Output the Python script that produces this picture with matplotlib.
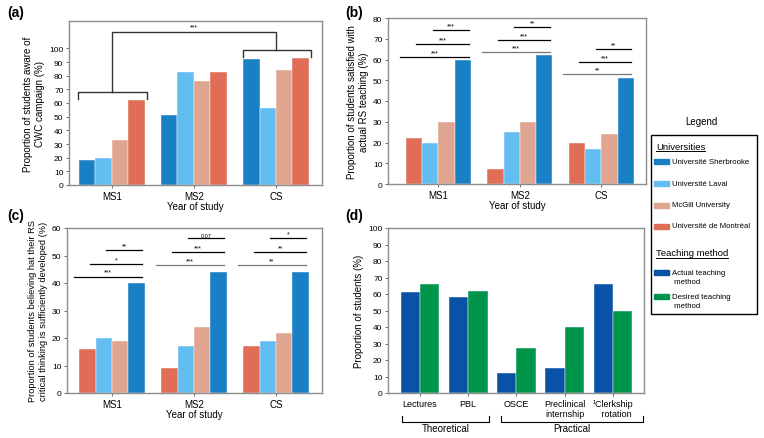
import matplotlib.pyplot as plt
import matplotlib.transforms as mtransforms
from matplotlib.patches import Rectangle
from matplotlib.lines import Line2D
import numpy as np

plt.rcParams['font.family'] = ['Liberation Sans', 'DejaVu Sans']

years = ['MS1', 'MS2', 'CS']

# (a) aware of CWC campaign
aware_sherbrooke = [18, 51, 92]
aware_laval = [20, 83, 56]
aware_mcgill = [33, 76, 84]
aware_montreal = [62, 83, 93]

# (b) satisfied with actual RS teaching
satis_montreal = [22, 7, 20]
satis_laval = [20, 25, 17]
satis_mcgill = [30, 30, 24]
satis_sherbrooke = [60, 62, 51]
satis_sig_y = [[61.3, 67.5, 74], [63.5, 69.2, 75.5], [53, 59, 65]]
satis_sig_txt = [['***', '***', '***'], ['***', '***', '**'], ['**', '***', '**']]

# (c) critical thinking sufficiently developed
crit_montreal = [16, 9, 17]
crit_laval = [20, 17, 19]
crit_mcgill = [19, 24, 22]
crit_sherbrooke = [40, 44, 44]
crit_sig_y = [[42.3, 46.9, 52], [46.5, 51.2, 56.2], [46.5, 51.2, 56.2]]
crit_sig_txt = [['***', '*', '**'], ['***', '***', '0.07'], ['**', '**', '*']]

# (d) teaching methods
methods = ['Lectures', 'PBL', 'OSCE', 'Preclinical\ninternship', '¹Clerkship\n   rotation']
actual = [61, 58, 12, 15, 66]
desired = [66, 62, 27, 40, 50]

c_sher = '#1a80c6'
c_laval = '#62bdf0'
c_mcgill = '#e0a591'
c_mont = '#e06d56'
c_actual = '#0a52a8'
c_desired = '#00954a'
spine_c = '#8c8c8c'

fig = plt.figure(figsize=(7.64, 4.39), dpi=100)

def px_axes(l, r, t, b):
    W, H = 764, 439
    return fig.add_axes([l / W, 1 - b / H, (r - l) / W, (b - t) / H])

def style(ax):
    for s in ax.spines.values():
        s.set_color(spine_c)
        s.set_linewidth(1.0)
    ax.tick_params(axis='y', labelsize=6, length=2.5, width=0.6, pad=1.5, color='#555555')
    ax.tick_params(axis='x', labelsize=7, length=2.5, width=0.6, pad=2, color='#555555')

offsets = np.array([-0.3, -0.1, 0.1, 0.3])
x = np.arange(len(years))

def draw_groups(ax, series, colors):
    for off, vals, col in zip(offsets, series, colors):
        ax.bar(x + off, vals, 0.2, color=col, edgecolor='white', linewidth=0.3)

def draw_sig(ax, ys, txts):
    for g in range(len(years)):
        for k in range(3):
            x0 = g + offsets[k] - 0.17
            x1 = g + offsets[3] + 0.07
            y = ys[g][k]
            col = '#777777' if (k == 0 and g > 0) else 'black'
            ax.plot([x0, x1], [y, y], color=col, lw=0.9, clip_on=False)
            fs = 4 if txts[g][k] == '0.07' else 5
            ax.text((x0 + x1) / 2, y + 0.3, txts[g][k], ha='center', va='bottom', fontsize=fs)

# ---------- (a)
ax = px_axes(69, 322, 22, 186)
style(ax)
draw_groups(ax, [aware_sherbrooke, aware_laval, aware_mcgill, aware_montreal],
            [c_sher, c_laval, c_mcgill, c_mont])
ax.set_xlim(-0.52, 2.56)
ax.set_ylim(0, 120)
ax.set_yticks(range(0, 101, 10))
ax.set_xticks(x, years)
ax.set_xlabel('Year of study', fontsize=7, labelpad=0)
ax.set_ylabel('Proportion of students aware of\nCWC campaign (%)', fontsize=7, labelpad=3)
bk = '#333333'
ax.plot([-0.41, -0.41, 0.43, 0.43], [63, 68, 68, 63], color=bk, lw=1)
ax.plot([1.6, 1.6, 2.43, 2.43], [94, 98.5, 98.5, 94], color=bk, lw=1)
ax.plot([0, 0, 2.0, 2.0], [68, 112, 112, 98.5], color=bk, lw=1)
ax.text(1.0, 112.8, '***', ha='center', va='bottom', fontsize=5)

# ---------- (b)
ax = px_axes(388, 646, 19, 185)
style(ax)
draw_groups(ax, [satis_montreal, satis_laval, satis_mcgill, satis_sherbrooke],
            [c_mont, c_laval, c_mcgill, c_sher])
ax.set_xlim(-0.62, 2.55)
ax.set_ylim(0, 80)
ax.set_yticks(range(0, 81, 10))
ax.set_xticks(x, years)
ax.set_xlabel('Year of study', fontsize=7, labelpad=0)
ax.set_ylabel('Proportion of students satisfied with\nactual RS teaching (%)', fontsize=7, labelpad=3)
draw_sig(ax, satis_sig_y, satis_sig_txt)

# ---------- (c)
ax = px_axes(67, 322, 229, 394)
style(ax)
draw_groups(ax, [crit_montreal, crit_laval, crit_mcgill, crit_sherbrooke],
            [c_mont, c_laval, c_mcgill, c_sher])
ax.set_xlim(-0.55, 2.56)
ax.set_ylim(0, 60)
ax.set_yticks(range(0, 61, 10))
ax.set_xticks(x, years)
ax.set_xlabel('Year of study', fontsize=7, labelpad=0)
ax.set_ylabel('Proportion of students believing hat their RS\ncritical thinking is sufficiently developed (%)',
              fontsize=6.7, labelpad=3)
draw_sig(ax, crit_sig_y, crit_sig_txt)

# ---------- (d)
ax = px_axes(388, 644, 229, 394)
style(ax)
xm = np.arange(len(methods))
ax.bar(xm - 0.2, actual, 0.4, color=c_actual, edgecolor='white', linewidth=0.3)
ax.bar(xm + 0.2, desired, 0.4, color=c_desired, edgecolor='white', linewidth=0.3)
ax.set_xlim(-0.66, 4.64)
ax.set_ylim(0, 100)
ax.set_yticks(range(0, 101, 10))
ax.set_xticks(xm, methods, fontsize=6.5, linespacing=1.05)
ax.set_ylabel('Proportion of students (%)', fontsize=7, labelpad=3)
tr = mtransforms.blended_transform_factory(ax.transData, ax.transAxes)
for x0, x1, lab in [(-0.37, 1.44, 'Theoretical'), (1.67, 4.62, 'Practical')]:
    ax.add_line(Line2D([x0, x0, x1, x1], [-0.14, -0.175, -0.175, -0.14], transform=tr,
                       color='black', lw=0.8, clip_on=False))
    ax.text((x0 + x1) / 2, -0.215, lab, transform=tr, ha='center', va='center', fontsize=7)

# ---------- panel letters
for lx, ly, lab in [(7, 13, '(a)'), (345, 13, '(b)'), (7, 216, '(c)'), (345, 216, '(d)')]:
    fig.text(lx / 764, 1 - ly / 439, lab, fontsize=10, fontweight='bold', ha='left', va='center')

# ---------- legend
W, H = 764, 439
def fx(p): return p / W
def fy(p): return 1 - p / H

fig.patches.append(Rectangle((fx(651), fy(315)), fx(757) - fx(651), fy(136) - fy(315),
                             transform=fig.transFigure, fill=False, edgecolor='black', lw=1))
fig.text(fx(701), fy(122), 'Legend', ha='center', va='center', fontsize=7)

def header(px, py, s):
    t = fig.text(fx(px), fy(py), s, ha='left', va='center', fontsize=6.8)
    fig.canvas.draw()
    bb = t.get_window_extent().transformed(fig.transFigure.inverted())
    fig.add_artist(Line2D([bb.x0, bb.x1], [bb.y0 - 0.002, bb.y0 - 0.002], color='black', lw=0.7,
                          transform=fig.transFigure))

header(656, 147, 'Universities')
header(656, 254, 'Teaching method')

entries = [(162, c_sher, 'Université Sherbrooke'),
           (184, c_laval, 'Université Laval'),
           (206, c_mcgill, 'McGill University'),
           (227, c_mont, 'Université de Montréal'),
           (278, c_actual, 'Actual teaching\n method'),
           (302, c_desired, 'Desired teaching\n method')]
for py, col, lab in entries:
    patch_y = py if '\n' not in lab else py - 5
    fig.patches.append(Rectangle((fx(654), fy(patch_y + 2.5)), fx(669) - fx(654), 5 / H,
                                 transform=fig.transFigure, color=col))
    fig.text(fx(672), fy(py), lab, ha='left', va='center', fontsize=5.6, linespacing=1.3)

fig.savefig('out.png', dpi=100)
